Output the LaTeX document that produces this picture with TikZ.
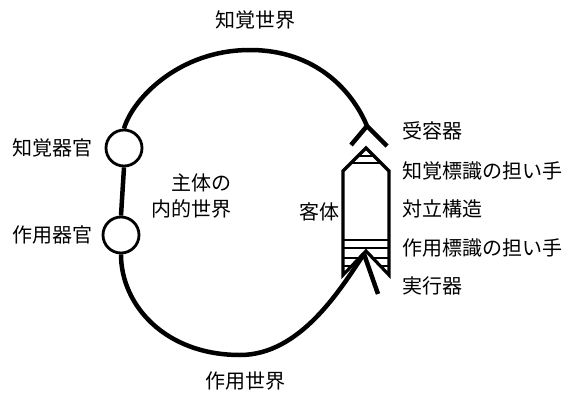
\documentclass[tikz,border=0pt]{standalone}
\usepackage{fontspec}
\newfontfamily\jp{Noto Sans CJK JP}
\begin{document}
\begin{tikzpicture}[x=1pt,y=-1pt,
  lbl/.style={font=\jp\fontsize{20}{26}\selectfont, inner sep=0pt},
  organ/.style={circle, draw, line width=2.8pt, minimum size=36pt, inner sep=0pt},
  world/.style={line width=4.5pt},
  obj/.style={line width=3.2pt, line join=miter},
  stripe/.style={line width=2.4pt}]
\useasboundingbox (0,0) rectangle (579,394);
% organs
\node[organ] (pc) at (124,148) {};
\node[organ] (ac) at (121,235) {};
% key points
\coordinate (rj) at (367,126);
\coordinate (rl) at (351,145);
\coordinate (rr) at (387,146);
\coordinate (ax) at (364,254);
\coordinate (ar) at (378,294);
% worlds
\draw[world] (pc.north) .. controls (132,100) and (178,50) .. (250,50) .. controls (315,50) and (352,90) .. (rj) -- (rr);
\draw[world] (rj) -- (rl);
\draw[world] (pc.south) -- (ac.north);
\draw[world] (ac.south) .. controls (121,305) and (165,355) .. (240,355) .. controls (300,355) and (340,290) .. (ax);
\draw[world] (ax) -- (ar);
% object
\draw[obj] (366,148) -- (389,171) -- (389,275) -- (366,251) -- (343,275) -- (343,171) -- cycle;
\draw[stripe] (358,156) -- (374,156);
\draw[stripe] (351,163) -- (381,163);
\draw[stripe] (343,240) -- (389,240);
\draw[stripe] (343,248) -- (389,248);
\draw[stripe] (343,258) -- (359,258) (373,258) -- (389,258);
\draw[stripe] (343,266) -- (351,266) (381,266) -- (389,266);
% labels
\node[lbl] (tw) at (255,20) {知覚世界};
\node[lbl] (aw) at (245,381) {作用世界};
\node[lbl, anchor=west] (pcl) at (12,148) {知覚器官};
\node[lbl, anchor=west] (acl) at (12,235) {作用器官};
\node[lbl, anchor=east, align=right] (subj) at (232,196) {主体の\\内的世界};
\node[lbl, anchor=east] (objl) at (340,212) {客体};
\node[lbl, anchor=west] (r1) at (402,131) {受容器};
\node[lbl, anchor=west] (r2) at (402,171) {知覚標識の担い手};
\node[lbl, anchor=west] (r3) at (402,209) {対立構造};
\node[lbl, anchor=west] (r4) at (402,248) {作用標識の担い手};
\node[lbl, anchor=west] (r5) at (402,286) {実行器};
\end{tikzpicture}
\end{document}
